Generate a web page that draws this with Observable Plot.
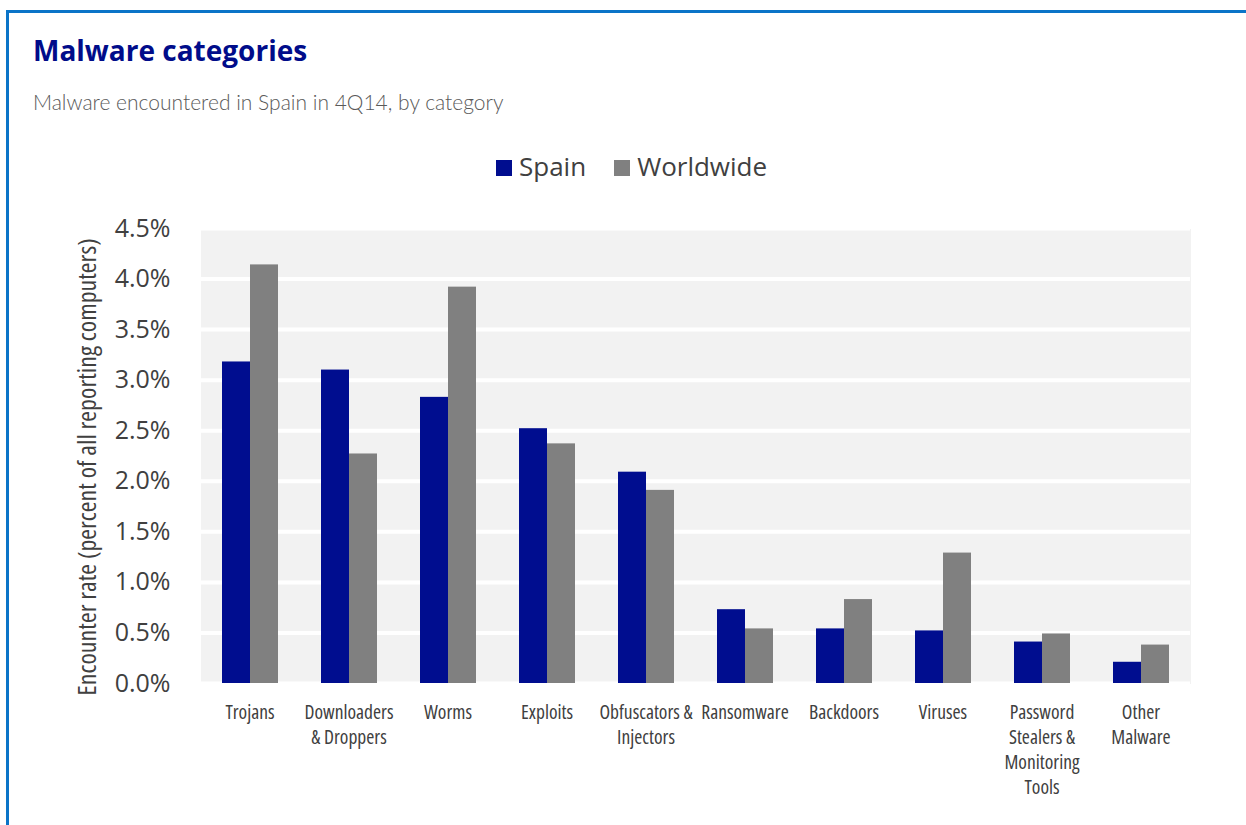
<!DOCTYPE html>
<html>
<head>
<meta charset="utf-8">
<script src="https://cdn.jsdelivr.net/npm/d3@7"></script>
<script src="https://cdn.jsdelivr.net/npm/@observablehq/plot@0.6"></script>
<style>
  html, body { margin: 0; padding: 0; background: #fff; }
  body { width: 1246px; height: 825px; overflow: hidden; position: relative; font-family: "Open Sans", sans-serif; }
  #border { position: absolute; left: 6px; top: 10px; width: 1400px; height: 1000px;
            border-left: 3px solid #0b74c8; border-top: 3px solid #0b74c8; box-sizing: border-box; }
  #title { position: absolute; left: 33px; top: 36px; font: bold 28px/28px "Open Sans", sans-serif; color: #000c8a; white-space: nowrap; }
  #subtitle { position: absolute; left: 33px; top: 91px; font: 300 21px/21px Lato, sans-serif; color: #595959; white-space: nowrap; }
  #legend { position: absolute; left: 496px; top: 155px; display: flex; align-items: center; white-space: nowrap;
            font: 26px/26px "Open Sans", sans-serif; color: #404040; }
  #legend .item { display: flex; align-items: center; margin-right: 28px; }
  #legend .sw { width: 16px; height: 16px; margin-right: 7px; }
  #legend .lab { position: relative; top: -2px; }
  #chart { position: absolute; left: 0; top: 200px; }
  .mc g[aria-label="fx-axis tick label"] { font-stretch: 75%; }
  .mc g[aria-label="text"] { font-stretch: 75%; }
</style>
</head>
<body>
<div id="border"></div>
<div id="title">Malware categories</div>
<div id="subtitle">Malware encountered in Spain in 4Q14, by category</div>
<div id="legend"></div>
<div id="chart"></div>
<script>
const categories = ["Trojans", "Downloaders & Droppers", "Worms", "Exploits", "Obfuscators & Injectors",
  "Ransomware", "Backdoors", "Viruses", "Password Stealers & Monitoring Tools", "Other Malware"];
const tickLabels = ["Trojans", "Downloaders\n& Droppers", "Worms", "Exploits", "Obfuscators &\nInjectors",
  "Ransomware", "Backdoors", "Viruses", "Password\nStealers &\nMonitoring\nTools", "Other\nMalware"];
const series = ["Spain", "Worldwide"];
const colors = ["#000d8f", "#808080"];
const spain = [3.18, 3.10, 2.83, 2.52, 2.09, 0.73, 0.54, 0.52, 0.41, 0.21];
const worldwide = [4.14, 2.27, 3.92, 2.37, 1.91, 0.54, 0.83, 1.29, 0.49, 0.38];
const yTicks = [0, 0.5, 1, 1.5, 2, 2.5, 3, 3.5, 4, 4.5];
const yLabel = "Encounter rate (percent of all reporting computers)";

const rows = [];
categories.forEach((c, i) => {
  rows.push({category: c, series: series[0], value: spain[i]});
  rows.push({category: c, series: series[1], value: worldwide[i]});
});

// legend
const legend = document.getElementById("legend");
series.forEach((s, i) => {
  const item = document.createElement("div");
  item.className = "item";
  const sw = document.createElement("div");
  sw.className = "sw";
  sw.style.background = colors[i];
  const lab = document.createElement("span");
  lab.className = "lab";
  lab.textContent = s;
  item.append(sw, lab);
  legend.append(item);
});

const chart = Plot.plot({
  className: "mc",
  width: 1220,
  height: 625,
  marginLeft: 200,
  marginRight: 30,
  marginTop: 28,
  marginBottom: 142,
  style: {fontFamily: "'Open Sans', sans-serif", color: "#404040", background: "transparent", overflow: "visible"},
  fx: {domain: categories, padding: 0, label: null},
  x: {domain: series, paddingInner: 0, paddingOuter: 0.737, axis: null},
  y: {domain: [0, 4.5], label: null},
  color: {domain: series, range: colors},
  marks: [
    Plot.frame({fill: "#f2f2f2", stroke: null, shapeRendering: "crispEdges"}),
    Plot.gridY(yTicks, {stroke: "white", strokeOpacity: 1, strokeWidth: 4}),
    Plot.barY(rows, {fx: "category", x: "series", y: "value", fill: "series"}),
    Plot.axisY({ticks: yTicks, tickFormat: d => d.toFixed(1) + "%", tickSize: 0, tickPadding: 30, fontSize: 25, label: null}),
    Plot.axisFx({anchor: "bottom", tickSize: 0, tickPadding: 18, fontSize: 19.5, lineHeight: 1.28,
      tickFormat: d => tickLabels[categories.indexOf(d)], label: null}),
    Plot.text([yLabel], {frameAnchor: "left", facetAnchor: "left", rotate: -90, textAnchor: "middle", dx: -113, dy: 11,
      fontSize: 26, fill: "#404040"})
  ]
});
document.getElementById("chart").append(chart);
</script>
</body>
</html>
